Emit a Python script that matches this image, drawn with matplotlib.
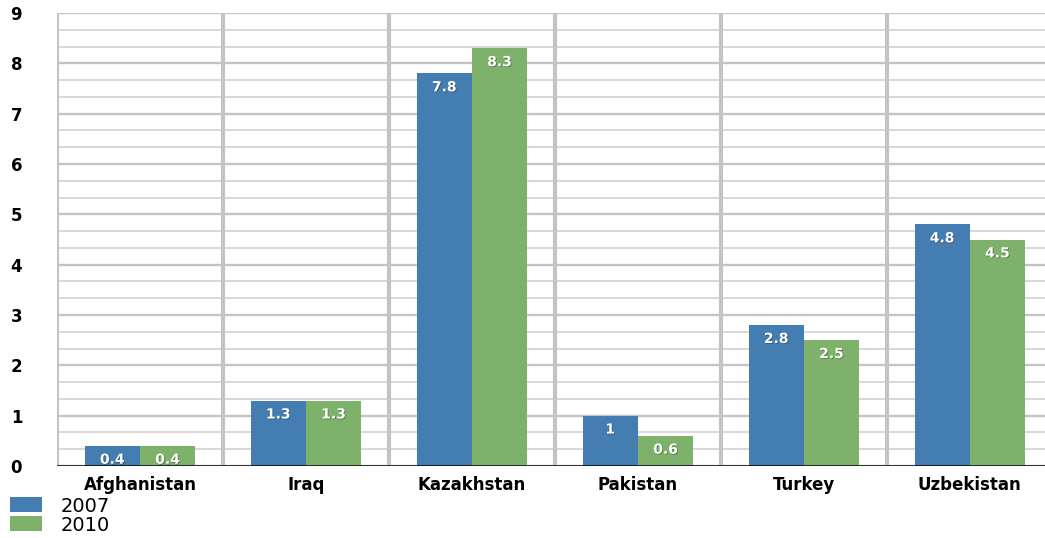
import numpy as np
import matplotlib
matplotlib.use("Agg")
import matplotlib.pyplot as plt
from matplotlib.patches import Patch
import matplotlib.patheffects as pe

# data
countries = ["Afghanistan", "Iraq", "Kazakhstan", "Pakistan", "Turkey", "Uzbekistan"]
vals_2007 = [0.4, 1.3, 7.8, 1.0, 2.8, 4.8]
vals_2010 = [0.4, 1.3, 8.3, 0.6, 2.5, 4.5]
labels_2007 = ["0.4", "1.3", "7.8", "1", "2.8", "4.8"]
labels_2010 = ["0.4", "1.3", "8.3", "0.6", "2.5", "4.5"]
years = ["2007", "2010"]

blue = "#437db2"
green = "#7eb26b"
grid_col = "#c4c4c4"
minor_col = "#d6d6d6"

plt.rcParams["font.family"] = ["DejaVu Sans"]

fig = plt.figure(figsize=(10.45, 5.38), dpi=100)
ax = fig.add_axes([0.0545, 0.1338, 0.953, 0.842])

x = np.arange(len(countries))
w = 0.333

# grid: thin lines every third, heavier on the integers, category dividers
for v in np.arange(0, 9.001, 1 / 3):
    major = abs(v - round(v)) < 1e-6
    if major:
        ax.axhline(v, color=grid_col, lw=1.7, zorder=0.5)
    else:
        ax.axhline(v, color=minor_col, lw=1.3, zorder=0)
for b in np.arange(-0.5, len(countries) + 0.5, 1):
    ax.axvline(b, color=grid_col, lw=3, zorder=1)

b1 = ax.bar(x - w / 2, vals_2007, w, color=blue, zorder=2)
b2 = ax.bar(x + w / 2, vals_2010, w, color=green, zorder=2)

shadow = [pe.withSimplePatchShadow(offset=(0.6, -0.6), shadow_rgbFace="#333333", alpha=0.5)]
for bars, labs in ((b1, labels_2007), (b2, labels_2010)):
    for r, lab in zip(bars, labs):
        ax.annotate(lab, (r.get_x() + r.get_width() / 2, r.get_height()),
                    xytext=(0, -10), textcoords="offset points",
                    ha="center", va="center", color="white",
                    fontsize=10, fontweight="bold", zorder=3, path_effects=shadow)

ax.axhline(0, color="black", lw=1.8, zorder=4)

ax.set_xlim(-0.5, len(countries) - 0.5)
ax.set_ylim(0, 9)
ax.set_yticks(range(10))
ax.set_xticks(x)
ax.set_xticklabels(countries, fontweight="bold", fontsize=12)
for t in ax.get_yticklabels():
    t.set_fontweight("bold")
    t.set_fontsize(12)
ax.tick_params(axis="y", length=0, pad=25)
ax.tick_params(axis="x", length=0, pad=7)
for s in ax.spines.values():
    s.set_visible(False)

handles = [Patch(facecolor=blue), Patch(facecolor=green)]
fig.legend(handles, years, loc="lower left", bbox_to_anchor=(-0.003, -0.019),
           frameon=False, fontsize=14, handlelength=1.6, handleheight=0.8,
           labelspacing=0.0, handletextpad=1.0, borderaxespad=0.3)

fig.savefig("out.png", dpi=100)
